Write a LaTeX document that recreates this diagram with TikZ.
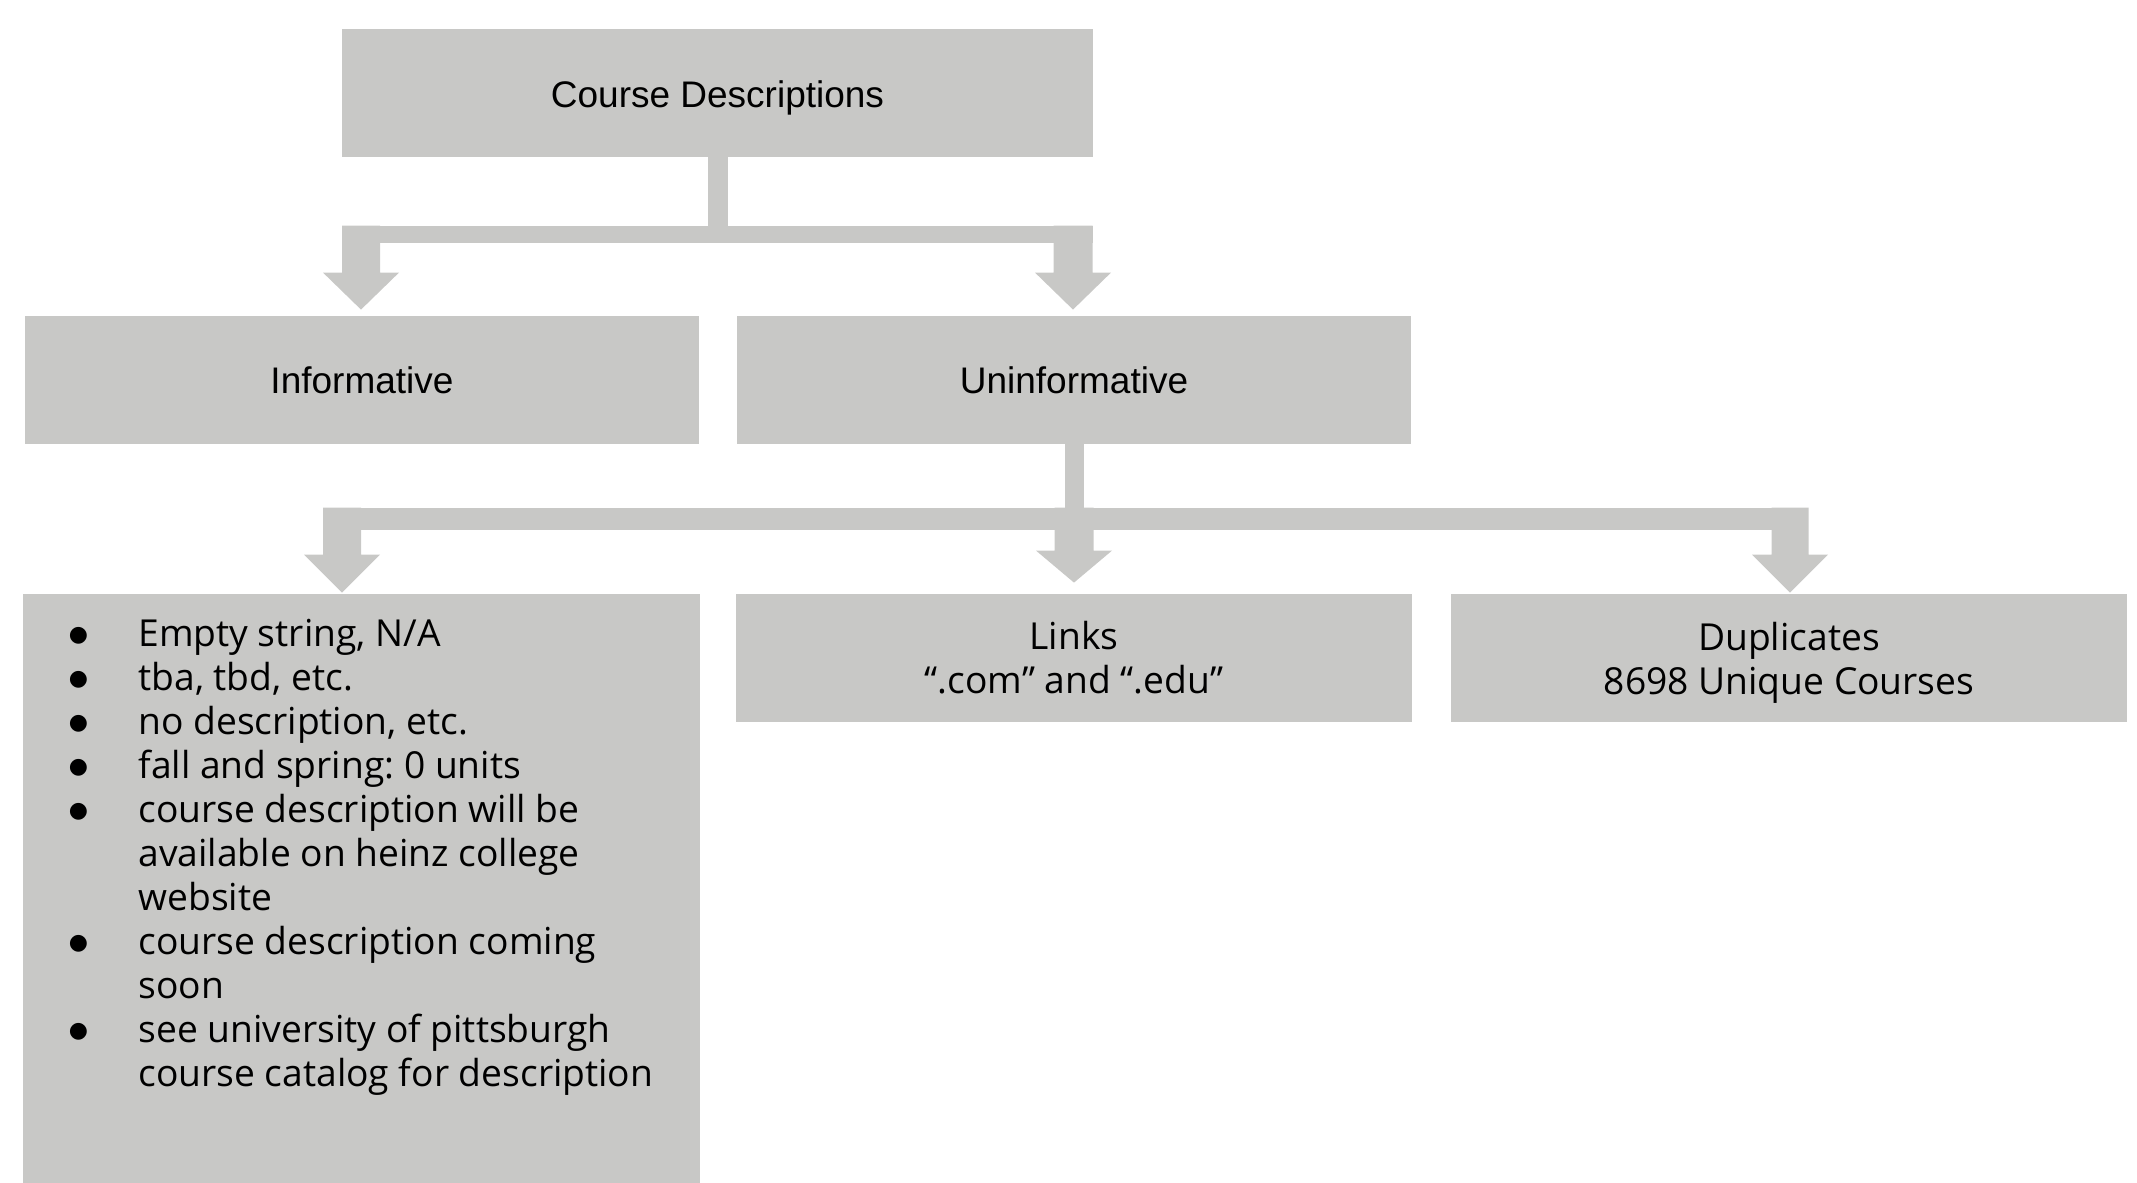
\documentclass[tikz,border=0pt]{standalone}
\usepackage{fontspec}
\setmainfont{Liberation Sans}
\newfontfamily\osans{Open Sans}
\newfontfamily\dvs{DejaVu Sans}
\usetikzlibrary{calc}
\definecolor{boxgray}{RGB}{200,200,198}
\frenchspacing
\newcommand\mkarrow[5]{%
  \fill[conn] #1 -- ++(-#3,-#4) -- ++({#3-#2},0) -- ++(0,{-(#5-#4)}) -- ++({2*#2},0) -- ++(0,{#5-#4}) -- ++({#3-#2},0) -- cycle;}
\newcommand\bul{\leavevmode\llap{\makebox[60pt]{\raisebox{2.2pt}{\dvs\fontsize{11}{11}\selectfont ●}}}}
\begin{document}
\begin{tikzpicture}[x=0.5pt,y=-0.5pt,
  box/.style={fill=boxgray, draw=none, inner sep=0pt, align=center},
  arialtxt/.style={font=\fontsize{18.5}{22}\selectfont},
  opentxt/.style={font=\osans\fontsize{18.6}{22}\selectfont},
  conn/.style={fill=boxgray}]
\useasboundingbox (0,0) rectangle (2137,1183);
\node[box, arialtxt, minimum width=375.5pt, minimum height=64pt, text height=17pt, text depth=3pt] (cd) at (717.5,93) {Course Descriptions};
\node[box, arialtxt, minimum width=337pt, minimum height=64pt] (inf) at (362,380) {Informative};
\node[box, arialtxt, minimum width=337pt, minimum height=64pt] (unf) at (1074,380) {Uninformative};
\node[box, minimum width=338.5pt, minimum height=294.5pt] (lst) at (361.5,888.5) {};
\node[box, opentxt, minimum width=338pt, minimum height=64pt] (lnk) at (1074,658) {Links\\“.com” and “.edu”};
\node[box, opentxt, minimum width=338pt, minimum height=64pt] (dup) at (1789,658) {Duplicates\\\raisebox{0pt}[\height][0pt]{8698 Unique Courses}};
\node[anchor=base west, inner sep=0pt] (items) at (138,646) {\parbox[t]{300pt}{\osans\fontsize{18.6}{22}\selectfont\raggedright
\bul Empty string, N/A\\
\bul tba, tbd, etc.\\
\bul no description, etc.\\
\bul fall and spring: 0 units\\
\bul course description will be\\
available on heinz college\\
website\\
\bul course description coming\\
soon\\
\bul see university of pittsburgh\\
course catalog for description}};
% top connector
\fill[conn] ($(cd.south)+(-10,-1)$) rectangle ($(cd.south)+(10,70)$);
\fill[conn] ($(cd.south west)+(0,69)$) rectangle ($(cd.south east)+(0,86)$);
\mkarrow{([xshift=-0.5pt,yshift=3pt]inf.north)}{19}{38}{37}{84}
\mkarrow{([xshift=-0.5pt,yshift=3pt]unf.north)}{19.5}{38}{37}{84}
% lower connector
\fill[conn] ($(unf.south)+(-9.5,-1)$) rectangle ($(unf.south)+(9.5,65)$);
\fill[conn] ($(lst.north)+(-38.5,-86)$) rectangle ($(dup.north)+(19,-64)$);
\mkarrow{([xshift=-9.75pt,yshift=0.5pt]lst.north)}{19}{38}{38}{85}
\mkarrow{([yshift=5.5pt]lnk.north)}{19.5}{38}{32}{75}
\mkarrow{([xshift=0.5pt,yshift=0.5pt]dup.north)}{18.5}{38}{38}{85}
\end{tikzpicture}
\end{document}
